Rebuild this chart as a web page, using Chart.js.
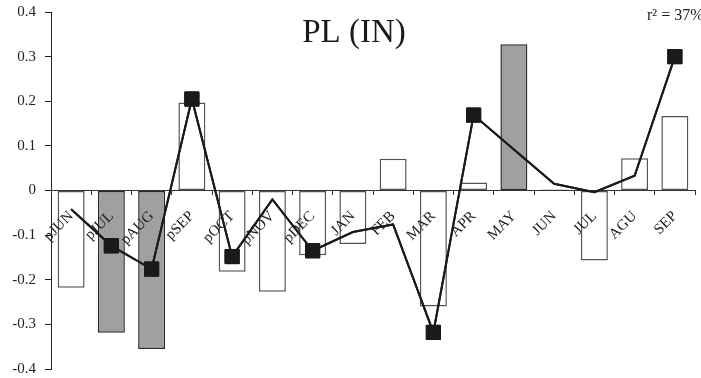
<!DOCTYPE html>
<html>
<head>
<meta charset="utf-8">
<script src="https://cdn.jsdelivr.net/npm/chart.js@4"></script>
<style>
  html, body { margin: 0; padding: 0; background: #fff; }
  #wrap { width: 701px; height: 378px; position: relative; }
</style>
</head>
<body>
<div id="wrap"><canvas id="chart"></canvas></div>
<script>
// data
const months = ['pJUN', 'pJUL', 'pAUG', 'pSEP', 'pOCT', 'pNOV', 'pDEC', 'JAN',
                'FEB', 'MAR', 'APR', 'MAY', 'JUN', 'JUL', 'AGU', 'SEP'];
const barValues = [-0.218, -0.319, -0.355, 0.197, -0.182, -0.227, -0.145, -0.12,
                   0.071, -0.26, 0.018, 0.328, 0.002, -0.157, 0.072, 0.167];
const lineValues = [-0.042, -0.124, -0.176, 0.205, -0.148, -0.02, -0.135, -0.093,
                    -0.076, -0.318, 0.169, 0.092, 0.015, -0.004, 0.033, 0.30];
const shadedMonths = ['pJUL', 'pAUG', 'MAY'];
const markedMonths = ['pJUL', 'pAUG', 'pSEP', 'pOCT', 'pDEC', 'MAR', 'APR', 'SEP'];
const yTicks = [-0.4, -0.3, -0.2, -0.1, 0, 0.1, 0.2, 0.3, 0.4];
const chartTitle = 'PL (IN)';
const r2Label = 'r\u00B2 = 37%';

const SERIF = '"Liberation Serif", "DejaVu Serif", serif';

// month labels sit over the bars but under the line, so draw the line again on top
const linePlugin = {
    id: 'lineOnTop',
    afterDraw(chart) {
        chart.getDatasetMeta(0).controller.draw();
    }
};

// title and r2 text drawn inside the plot like the original
const textPlugin = {
    id: 'textPlugin',
    afterDraw(chart) {
        const ctx = chart.ctx;
        ctx.save();
        ctx.fillStyle = '#1a1a1a';
        ctx.textBaseline = 'alphabetic';
        ctx.textAlign = 'center';
        ctx.font = '33px ' + SERIF;
        ctx.fillText(chartTitle, 354, 42);
        ctx.textAlign = 'left';
        ctx.font = '16px ' + SERIF;
        ctx.fillText(r2Label, 647, 20);
        ctx.restore();
    }
};

new Chart(document.getElementById('chart'), {
    data: {
        labels: months,
        datasets: [
            {
                type: 'line',
                data: lineValues,
                order: 1,
                borderColor: '#1a1a1a',
                borderWidth: 2,
                tension: 0,
                pointStyle: 'rect',
                pointRadius: months.map(m => markedMonths.includes(m) ? 10 : 0),
                pointHoverRadius: months.map(m => markedMonths.includes(m) ? 10 : 0),
                pointBackgroundColor: '#1a1a1a',
                pointBorderColor: '#1a1a1a',
                pointBorderWidth: 1
            },
            {
                type: 'bar',
                data: barValues,
                order: 2,
                backgroundColor: months.map(m => shadedMonths.includes(m) ? '#a0a0a0' : '#ffffff'),
                borderColor: months.map(m => shadedMonths.includes(m) ? '#2a2a2a' : '#555555'),
                borderWidth: 1.5,
                borderSkipped: false,
                categoryPercentage: 1,
                barPercentage: 0.67
            }
        ]
    },
    options: {
        responsive: true,
        maintainAspectRatio: false,
        animation: false,
        layout: { autoPadding: false, padding: { top: 12, right: 6, bottom: 9, left: 0 } },
        plugins: {
            legend: { display: false },
            tooltip: { enabled: false }
        },
        scales: {
            x: {
                type: 'category',
                position: { y: 0 },
                offset: true,
                afterFit(scale) { scale.paddingLeft = 0; scale.paddingRight = 0; },
                grid: { offset: true, drawOnChartArea: false, tickLength: 4, color: '#333', lineWidth: 1, z: 1 },
                border: { display: true, color: '#333', width: 1, z: 1 },
                ticks: {
                    autoSkip: false,
                    minRotation: 45,
                    maxRotation: 45,
                    padding: 13,
                    z: 1,
                    color: '#222',
                    font: { family: SERIF, size: 15 }
                }
            },
            y: {
                min: -0.4,
                max: 0.4,
                afterFit(scale) {
                    scale.width = 51;
                    scale.paddingTop = 0;
                    scale.paddingBottom = 0;
                },
                afterBuildTicks(scale) { scale.ticks = yTicks.map(v => ({ value: v })); },
                grid: { drawOnChartArea: false, tickLength: 6, color: '#222', lineWidth: 1 },
                border: { display: true, color: '#222', width: 1 },
                ticks: {
                    color: '#222',
                    padding: 9,
                    font: { family: SERIF, size: 15 },
                    callback: v => String(Number(v.toFixed(1)))
                }
            }
        }
    },
    plugins: [linePlugin, textPlugin]
});
</script>
</body>
</html>
